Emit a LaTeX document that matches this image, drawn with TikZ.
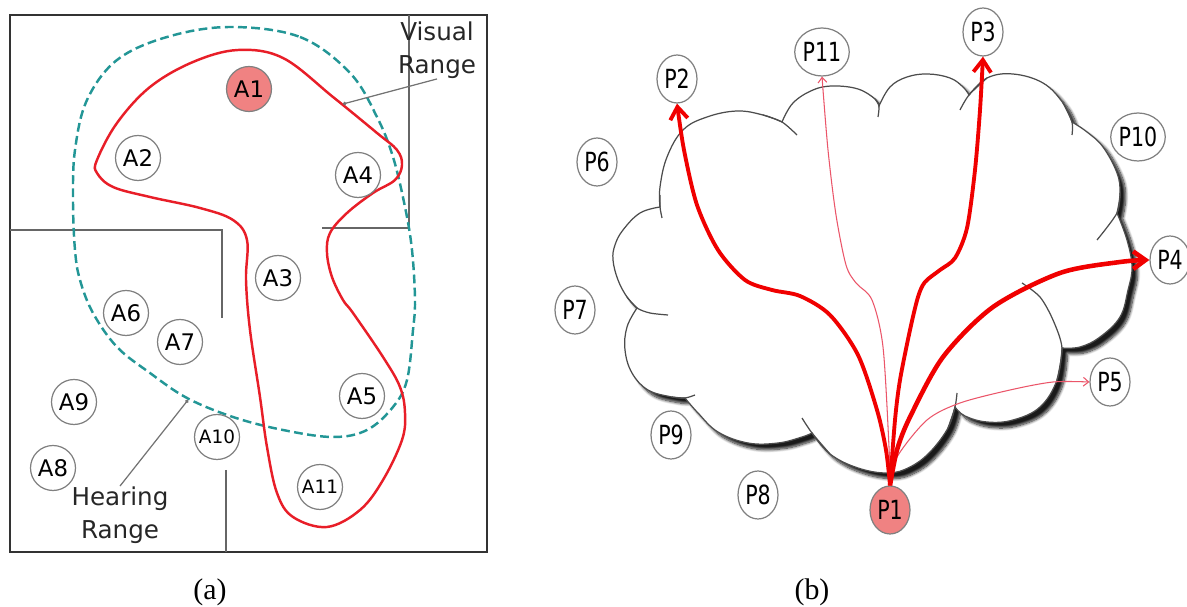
\documentclass[tikz,border=0pt]{standalone}
\usepackage{fontspec}
\setmainfont{Liberation Serif}
\newfontfamily\labelfont{DejaVu Sans}
\newfontfamily\peerfont{DejaVu Sans}[FakeStretch=0.78]
\usetikzlibrary{arrows.meta,shapes.geometric,shadows.blur}

\definecolor{nodepink}{RGB}{240,130,130}
\definecolor{rangered}{RGB}{232,30,40}
\definecolor{hearteal}{RGB}{35,150,150}
\definecolor{arrowred}{RGB}{240,0,0}
\definecolor{thinred}{RGB}{235,85,105}

\tikzset{
	agent/.style={circle, draw=black!50, line width=0.7pt, minimum size=0.9cm, inner sep=0pt,
		font=\labelfont\fontsize{13}{13}\selectfont},
	smallagent/.style={agent, font=\labelfont\fontsize{10.5}{10.5}\selectfont},
	peer/.style={ellipse, draw=black!50, line width=0.7pt, minimum width=0.8cm, minimum height=0.96cm,
		inner sep=0pt, font=\peerfont\fontsize{15}{15}\selectfont},
	wall/.style={draw=black!60, line width=0.8pt},
	rangelabel/.style={align=center, inner sep=0pt, text=black!85,
		font=\labelfont\fontsize{14}{19}\selectfont},
	pointer/.style={draw=black!55, line width=0.7pt, -{Circle[length=2pt]}},
	visualline/.style={draw=rangered, line width=1.4pt},
	hearline/.style={draw=hearteal, line width=1.4pt, dash pattern=on 5pt off 2.5pt},
	cloudline/.style={draw=black!70, line width=0.7pt},
	bigarrow/.style={draw=arrowred, line width=2.2pt, -{Straight Barb[length=7pt,width=10pt]}},
	thinarrow/.style={draw=thinred, line width=0.6pt, -{Straight Barb[length=3pt,width=5pt]}},
	caption/.style={inner sep=0pt, font=\fontsize{17}{17}\selectfont}
}

\begin{document}
\begin{tikzpicture}[x=0.02cm, y=-0.02cm]
	\useasboundingbox (0,0) rectangle (1187,607);

	% (a) room with walls
	\draw[line width=1.5pt, black!80] (10,15) rectangle (487,552);
	\draw[wall]	(10,230)	--	(222,230)	--	(222,318)
				(409,15)	--	(409,228)	--	(322,228)
				(226,470)	--	(226,552);

	% hearing range
	\draw[hearline] plot[smooth cycle, tension=0.6] coordinates {
		(230,27) (300,37) (350,73) (377,117) (393,157) (405,207) (412,250) (415,300)
		(413,330) (407,380) (393,407) (367,430) (333,437) (283,430) (233,417) (187,398)
		(150,373) (117,347) (93,313) (80,280) (75,250) (73,200) (75,150) (87,100)
		(117,60) (167,37)};

	% visual range
	\draw[visualline] plot[smooth cycle, tension=0.6] coordinates {
		(238,50) (283,58) (333,97) (377,133) (397,150) (402,165) (395,180) (373,193)
		(347,213) (330,233) (327,253) (332,277) (343,300) (353,313) (383,357) (400,387)
		(405,413) (402,440) (383,480) (360,510) (327,527) (293,517) (277,493) (267,447)
		(260,397) (250,330) (246,280) (247,240) (233,220) (200,208) (150,197) (113,187)
		(97,173) (97,160) (117,123) (150,87) (193,62)};

	% agents
	\node[agent, fill=nodepink]	(A1)	at (249,89)		{A1};
	\node[agent]				(A2)	at (138,158)	{A2};
	\node[agent]				(A3)	at (278,278)	{A3};
	\node[agent]				(A4)	at (358,175)	{A4};
	\node[agent]				(A5)	at (362,396)	{A5};
	\node[agent]				(A6)	at (126,313)	{A6};
	\node[agent]				(A7)	at (180,342)	{A7};
	\node[agent]				(A8)	at (53,468)		{A8};
	\node[agent]				(A9)	at (74,402)		{A9};
	\node[smallagent]			(A10)	at (217,437)	{A10};
	\node[smallagent]			(A11)	at (320,487)	{A11};

	% range labels
	\node[rangelabel] (visual)	at (437,50)		{Visual\\Range};
	\node[rangelabel] (hearing)	at (120,515)	{Hearing\\Range};
	\coordinate (visualend)		at (343,104);
	\coordinate (hearingend)	at (188,400);
	\draw[pointer] (visual.south)	--	(visualend);
	\draw[pointer] (hearing.north)	--	(hearingend);

	% (b) cloud
	\path[cloudline, fill=white,
		blur shadow={shadow xshift=3.2pt, shadow yshift=-3.2pt, shadow blur radius=1.6pt,
			shadow blur steps=10, shadow opacity=90}]
		plot[smooth, tension=0.65] coordinates {(660,207) (660,187) (667,157) (683,130) (707,117) (737,111) (763,115) (782,122)}
		-- plot[smooth, tension=0.65] coordinates {(782,122) (793,103) (813,90) (833,86) (858,89) (875,99) (879,106)}
		-- plot[smooth, tension=0.65] coordinates {(879,106) (890,87) (907,77) (928,74) (950,78) (963,87) (969,95)}
		-- plot[smooth, tension=0.65] coordinates {(969,95) (987,78) (1013,74) (1043,83) (1063,103) (1072,122)}
		-- plot[smooth, tension=0.65] coordinates {(1072,122) (1087,132) (1103,147) (1117,173) (1120,193) (1117,213)}
		-- plot[smooth, tension=0.65] coordinates {(1117,213) (1127,240) (1132,267) (1128,290) (1120,317) (1100,337) (1080,347) (1062,348)}
		-- plot[smooth, tension=0.65] coordinates {(1062,348) (1057,380) (1040,407) (1013,420) (987,422) (965,416) (955,407)}
		-- plot[smooth, tension=0.65] coordinates {(955,407) (948,428) (930,452) (910,467) (888,473) (858,468) (830,454) (812,433)}
		-- plot[smooth, tension=0.65] coordinates {(812,433) (802,437) (778,443) (748,443) (718,432) (698,413) (685,398)}
		-- plot[smooth, tension=0.65] coordinates {(685,398) (672,397) (648,390) (632,373) (625,350) (627,327) (637,308)}
		-- plot[smooth, tension=0.65] coordinates {(637,308) (627,297) (618,280) (613,260) (615,245) (623,230) (640,213) (660,207)}
		-- cycle;

	% inner ends of the lobes
	\draw[cloudline] plot[smooth] coordinates {(660,195) (660,207) (662,218)};
	\draw[cloudline] plot[smooth] coordinates {(763,115) (782,122) (797,135)};
	\draw[cloudline] plot[smooth] coordinates {(875,99) (879,106) (878,117)};
	\draw[cloudline] plot[smooth] coordinates {(987,78) (969,95) (960,110)};
	\draw[cloudline] plot[smooth] coordinates {(1063,103) (1072,122) (1072,135)};
	\draw[cloudline] plot[smooth] coordinates {(1120,193) (1117,213) (1097,240)};
	\draw[cloudline] plot[smooth] coordinates {(1057,380) (1062,348) (1053,320) (1040,297) (1022,283)};
	\draw[cloudline] plot[smooth] coordinates {(948,428) (955,407) (957,393)};
	\draw[cloudline] plot[smooth] coordinates {(830,454) (812,433) (802,418)};
	\draw[cloudline] plot[smooth] coordinates {(672,397) (685,398) (695,395)};
	\draw[cloudline] plot[smooth] coordinates {(627,297) (637,308) (650,313) (668,315)};

	% peers
	\node[peer, fill=nodepink]	(P1)	at (890,510)	{P1};
	\node[peer]					(P2)	at (677,79)		{P2};
	\node[peer]					(P3)	at (983,32)		{P3};
	\node[peer]					(P4)	at (1170,260)	{P4};
	\node[peer]					(P5)	at (1110,382)	{P5};
	\node[peer]					(P6)	at (597,162)	{P6};
	\node[peer]					(P7)	at (575,310)	{P7};
	\node[peer]					(P8)	at (758,495)	{P8};
	\node[peer]					(P9)	at (671,435)	{P9};
	\node[peer]					(P10)	at (1138,137)	{P10};
	\node[peer]					(P11)	at (822,52)		{P11};

	% messages from P1
	\draw[thinarrow] plot[smooth] coordinates {(P1.north) (889,447) (883,347) (872,300) (856,283)
		(846,265) (836,215) (828,150) (P11.south)};
	\draw[thinarrow] plot[smooth] coordinates {(P1.north) (897,457) (927,420) (960,403) (1010,390)
		(1053,382) (P5.west)};
	\draw[bigarrow] plot[smooth] coordinates {(P1.north) (886,450) (877,410) (858,355) (830,315)
		(800,296) (772,290) (745,280) (718,250) (697,205) (684,150) (P2.south)};
	\draw[bigarrow] plot[smooth] coordinates {(P1.north) (895,420) (900,380) (910,330) (918,297)
		(925,282) (940,270) (955,258) (967,228) (975,170) (980,110) (P3.south)};
	\draw[bigarrow, line width=2.6pt] plot[smooth] coordinates {(P1.north) (897,450) (910,417)
		(943,357) (993,307) (1060,273) (1120,262) (P4.west)};

	% captions
	\node[caption] (capa) at (210,592) {(a)};
	\node[caption] (capb) at (812,592) {(b)};
\end{tikzpicture}
\end{document}
